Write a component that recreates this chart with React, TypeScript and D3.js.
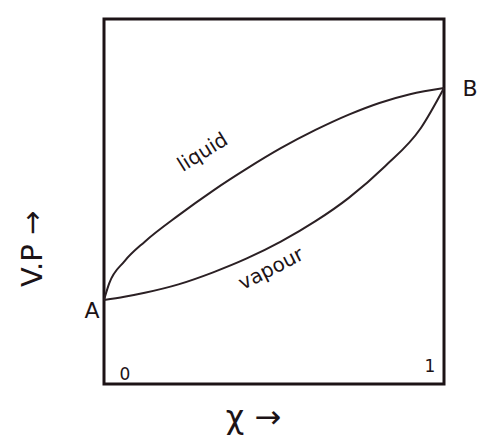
import * as d3 from 'd3';

// mole fraction along the bottom, vapour pressure up the side
const liquidX = [0, 0.015, 0.06, 0.12, 0.219, 0.321, 0.42, 0.52, 0.622, 0.72, 0.81, 0.9, 1.0];
const liquidP = [23.0, 27.5, 33.6, 39.0, 46.2, 53.0, 59.0, 64.6, 69.6, 73.8, 77.0, 79.4, 81.1];

const vapourX = [0, 0.06, 0.12, 0.219, 0.321, 0.42, 0.52, 0.622, 0.72, 0.826, 0.931, 1.0];
const vapourP = [23.0, 23.9, 25.0, 27.3, 30.6, 34.4, 39.0, 44.6, 51.0, 59.6, 70.0, 81.1];

const xTicks = ['0', '1'];

export default function App() {
  const width = 485;
  const height = 445;
  const margin = { top: 19, right: 41, bottom: 61, left: 104 };
  const innerWidth = width - margin.left - margin.right;
  const innerHeight = height - margin.top - margin.bottom;

  const xScale = d3.scaleLinear().domain([0, 1]).range([0, innerWidth]);
  const yScale = d3.scaleLinear().domain([0, 100]).range([innerHeight, 0]);

  const line = d3
    .line<[number, number]>()
    .x(d => xScale(d[0]))
    .y(d => yScale(d[1]))
    .curve(d3.curveMonotoneX);

  const liquid = liquidX.map((x, i) => [x, liquidP[i]] as [number, number]);
  const vapour = vapourX.map((x, i) => [x, vapourP[i]] as [number, number]);

  const font = '"DejaVu Sans", sans-serif';
  const ink = '#1c1316';

  // label anchors at the two ends
  const aY = yScale(liquidP[0]);
  const bY = yScale(liquidP[liquidP.length - 1]);

  return (
    <svg
      width={width}
      height={height}
      style={{ position: 'absolute', left: 0, top: 0, background: '#fff' }}
      fontFamily={font}
    >
      <g transform={`translate(${margin.left},${margin.top})`}>
        {/* frame */}
        <rect
          x={0}
          y={0}
          width={innerWidth}
          height={innerHeight}
          fill="none"
          stroke={ink}
          strokeWidth={3}
        />

        {/* curves */}
        <path d={line(liquid) ?? ''} fill="none" stroke="#2b2024" strokeWidth={2} />
        <path d={line(vapour) ?? ''} fill="none" stroke="#2b2024" strokeWidth={2} />

        {/* curve labels */}
        <text
          transform={`translate(${xScale(0.3)},${yScale(62)}) rotate(-32)`}
          textAnchor="middle"
          fontSize={20}
          fill={ink}
        >
          liquid
        </text>
        <text
          transform={`translate(${xScale(0.5)},${yScale(30)}) rotate(-27)`}
          textAnchor="middle"
          fontSize={20}
          fill={ink}
        >
          vapour
        </text>

        {/* end points */}
        <text x={-12} y={aY + 18} textAnchor="middle" fontSize={22} fill={ink}>
          A
        </text>
        <text x={innerWidth + 26} y={bY + 8} textAnchor="middle" fontSize={22} fill={ink}>
          B
        </text>

        {/* 0 and 1 */}
        {xTicks.map((t, i) => (
          <text
            key={t}
            x={xScale(+t) + (i === 0 ? 21 : -14)}
            y={innerHeight - (i === 0 ? 4 : 12)}
            textAnchor="middle"
            fontSize={17}
            fill={ink}
          >
            {t}
          </text>
        ))}

        {/* axis titles */}
        <text
          x={xScale(0.44)}
          y={innerHeight + 44}
          textAnchor="middle"
          fontSize={32}
          fill={ink}
        >
          χ →
        </text>
        <text
          transform={`translate(${-62},${yScale(37)}) rotate(-90)`}
          textAnchor="middle"
          fontSize={29}
          fill={ink}
        >
          V.P →
        </text>
      </g>
    </svg>
  );
}
